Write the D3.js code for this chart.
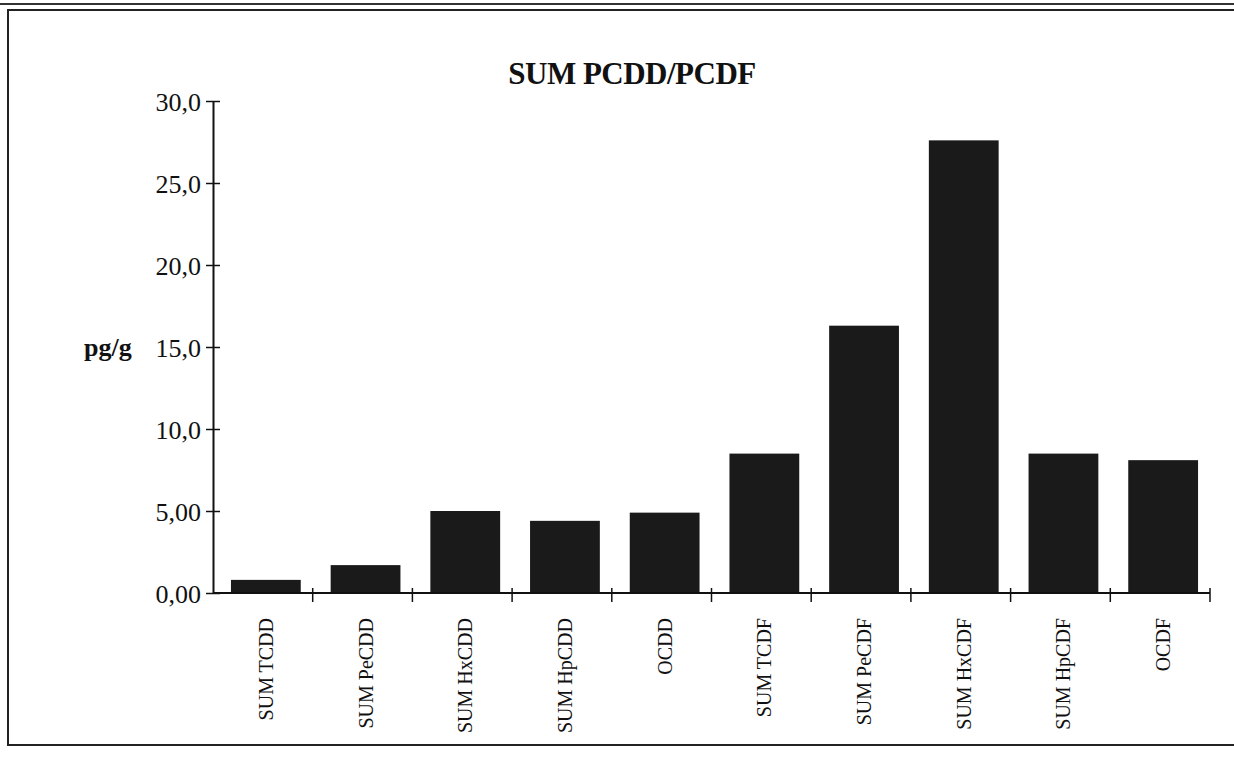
<!DOCTYPE html>
<html>
<head>
<meta charset="utf-8">
<script src="https://cdn.jsdelivr.net/npm/d3@7"></script>
<style>
  body { margin: 0; background: #fff; }
  text { font-family: "Liberation Serif", "DejaVu Serif", serif; fill: #111; }
</style>
</head>
<body>
<div id="chart"></div>
<script>
const categories = ["SUM TCDD", "SUM PeCDD", "SUM HxCDD", "SUM HpCDD", "OCDD",
  "SUM TCDF", "SUM PeCDF", "SUM HxCDF", "SUM HpCDF", "OCDF"];
const values = [0.8, 1.7, 5.0, 4.4, 4.9, 8.5, 16.3, 27.6, 8.5, 8.1];
const yTicks = [0, 5, 10, 15, 20, 25, 30];
const yTickLabels = ["0,00", "5,00", "10,0", "15,0", "20,0", "25,0", "30,0"];

const W = 1234, H = 762;
const margin = { top: 101, right: 24, bottom: 169, left: 213 };
const width = W - margin.left - margin.right;
const height = H - margin.top - margin.bottom;

const svg = d3.select("#chart").append("svg")
  .attr("width", W)
  .attr("height", H);

// frame
svg.append("rect")
  .attr("x", 8).attr("y", 10)
  .attr("width", 1240).attr("height", 735)
  .attr("fill", "none").attr("stroke", "#222").attr("stroke-width", 2);
svg.append("line")
  .attr("x1", 0).attr("x2", W).attr("y1", 4).attr("y2", 4)
  .attr("stroke", "#333").attr("stroke-width", 2);

svg.append("text")
  .attr("x", 632).attr("y", 84)
  .attr("text-anchor", "middle")
  .style("font-size", "31px").style("font-weight", "bold")
  .style("letter-spacing", "-0.5px")
  .text("SUM PCDD/PCDF");

const g = svg.append("g").attr("transform", `translate(${margin.left},${margin.top})`);

const x = d3.scaleBand().domain(categories).range([0, width]).paddingInner(0.3).paddingOuter(0.15);
const y = d3.scaleLinear().domain([0, 30]).range([height, 0]);

// bars
g.selectAll("rect.bar")
  .data(values)
  .enter()
  .append("rect")
  .attr("class", "bar")
  .attr("x", (d, i) => x(categories[i]) + 3)
  .attr("y", (d) => y(d))
  .attr("width", x.bandwidth())
  .attr("height", (d) => y(0) - y(d))
  .attr("fill", "#1a1a1a");

// y axis
const yAxis = g.append("g")
  .call(d3.axisLeft(y).tickValues(yTicks).tickFormat((d, i) => yTickLabels[i]).tickSize(7).tickSizeOuter(0));
yAxis.select(".domain").attr("stroke", "#111").attr("stroke-width", 2);
yAxis.selectAll(".tick line").attr("x2", 7).attr("x1", -7).attr("stroke", "#111").attr("stroke-width", 1.5);
yAxis.selectAll(".tick text").attr("x", -12).attr("dy", "0.35em")
  .style("font-size", "26px").style("font-family", "Liberation Serif, serif");

svg.append("text")
  .attr("x", 84).attr("y", y(15) + margin.top)
  .attr("dy", "0.35em")
  .style("font-size", "26px").style("font-weight", "bold")
  .text("pg/g");

// x axis: ticks at category boundaries
const bounds = d3.range(categories.length + 1).map((i) => i * width / categories.length);
g.append("line")
  .attr("x1", 0).attr("x2", width)
  .attr("y1", height).attr("y2", height)
  .attr("stroke", "#111").attr("stroke-width", 2);
g.selectAll("line.xtick")
  .data(bounds.slice(1))
  .enter()
  .append("line")
  .attr("class", "xtick")
  .attr("x1", (d) => d).attr("x2", (d) => d)
  .attr("y1", height - 5).attr("y2", height + 9)
  .attr("stroke", "#111").attr("stroke-width", 1.5);

g.selectAll("text.xlab")
  .data(categories)
  .enter()
  .append("text")
  .attr("class", "xlab")
  .attr("transform", (d) => `translate(${x(d) + x.bandwidth() / 2 + 3},${height + 25}) rotate(-90)`)
  .attr("text-anchor", "end")
  .attr("dy", "0.35em")
  .style("font-size", "20px")
  .text((d) => d);
</script>
</body>
</html>
